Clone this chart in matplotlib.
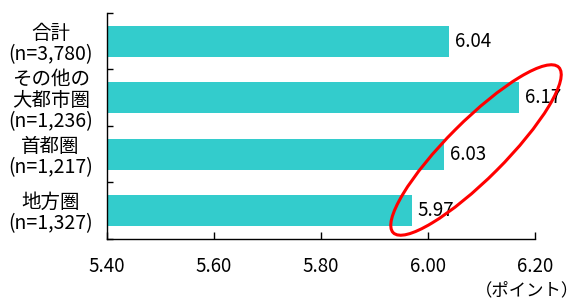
import numpy as np
import matplotlib.pyplot as plt
from matplotlib.patches import Ellipse
from matplotlib.transforms import IdentityTransform

plt.rcParams['font.family'] = ['Noto Sans CJK JP', 'DejaVu Sans']

categories = ["合計\n(n=3,780)", "その他の\n大都市圏\n(n=1,236)", "首都圏\n(n=1,217)", "地方圏\n(n=1,327)"]
values = [6.04, 6.17, 6.03, 5.97]
xticks = [5.40, 5.60, 5.80, 6.00, 6.20]

BAR_COLOR = "#33CCCC"

fig = plt.figure(figsize=(5.81, 3.01), dpi=100)
ax = fig.add_axes([0.184, 0.206, 0.737, 0.751])

y = np.arange(len(categories))
ax.barh(y, values, height=0.55, color=BAR_COLOR, left=0)

for yi, v in zip(y, values):
    ax.annotate(f"{v:.2f}", xy=(v, yi), xytext=(4, 0), textcoords="offset points",
                ha="left", va="center", fontsize=13.5)

ax.set_xlim(5.40, 6.20)
ax.set_ylim(len(categories) - 0.5, -0.5)
ax.set_xticks(xticks)
ax.set_xticklabels([f"{t:.2f}" for t in xticks], fontsize=13.5)
ax.tick_params(axis="x", direction="in", length=5, width=1, pad=12)

ax.set_yticks(y)
ax.set_yticklabels(categories, fontsize=14, multialignment="center", linespacing=1.0)
ax.tick_params(axis="y", which="major", length=0, pad=10)
ax.set_yticks(np.arange(-0.5, len(categories)), minor=True)
ax.tick_params(axis="y", which="minor", direction="in", length=4, width=1)

for s in ["top", "right"]:
    ax.spines[s].set_visible(False)
for s in ["left", "bottom"]:
    ax.spines[s].set_color("black")
    ax.spines[s].set_linewidth(1)

fig.text(0.997, 0.005, "（ポイント）", ha="right", va="bottom", fontsize=12.5)

# red ellipse highlighting the right-side groups (pixel coordinates)
ell = Ellipse((476, 151), width=234, height=58, angle=45,
              transform=IdentityTransform(), fill=False, edgecolor="red", lw=2.2)
fig.patches.append(ell)

fig.savefig("out.png", dpi=100)
